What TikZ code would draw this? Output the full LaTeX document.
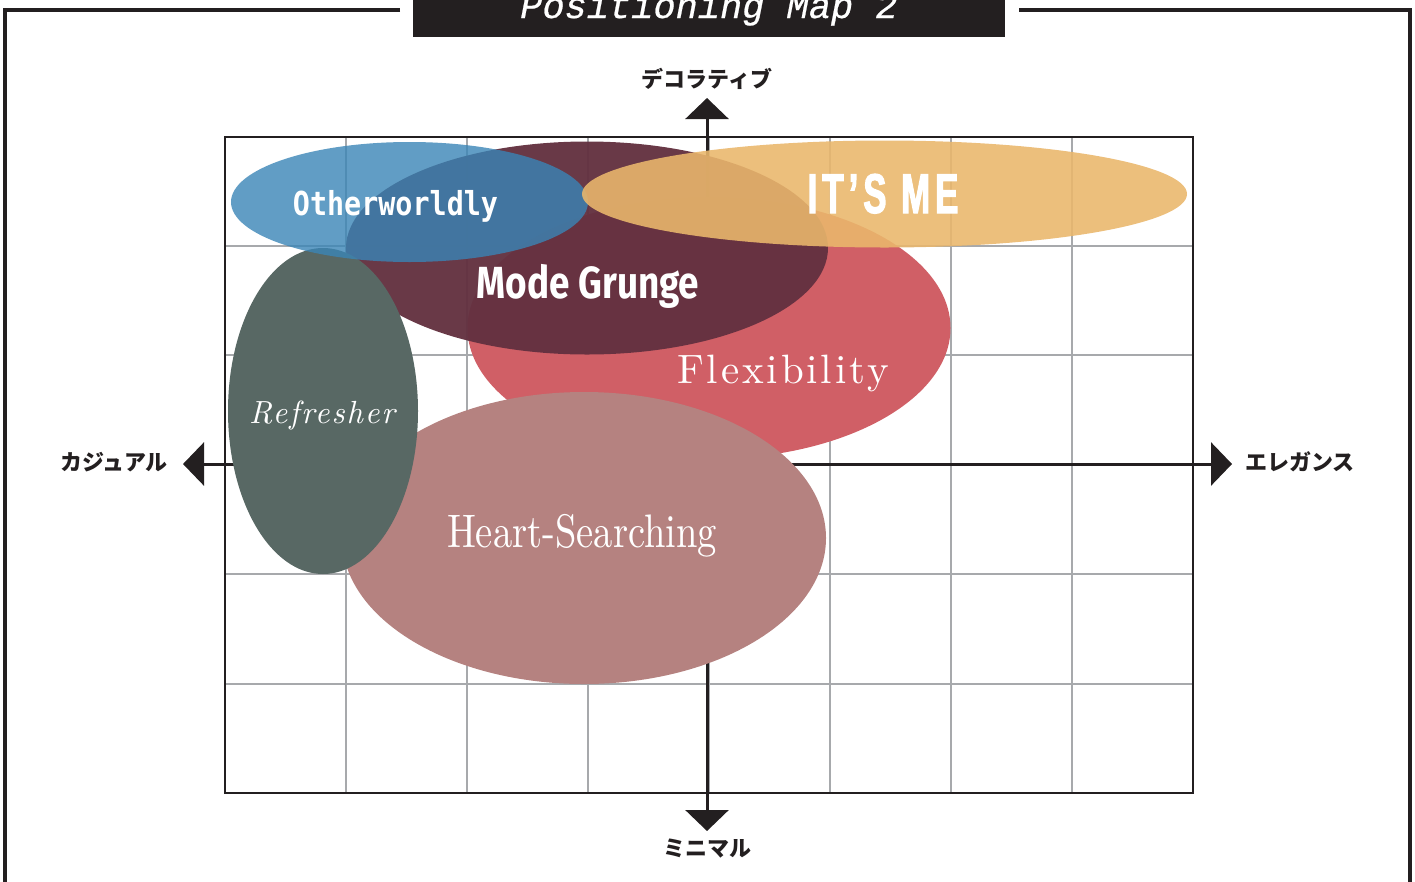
\documentclass[tikz,border=0pt]{standalone}
\usepackage{xcolor}
\usepackage{fontspec}
\usepackage{tikz}
\usetikzlibrary{arrows.meta}
\newfontfamily\jpfont{Noto Sans CJK JP}
\newfontfamily\titlefont{Liberation Mono}[FakeBold=0.6]
\newfontfamily\otherfont{DejaVu Sans Mono}[FakeStretch=0.86]
\newfontfamily\grungefont{Fira Sans}[FakeStretch=0.82]
\newfontfamily\itsmefont{Liberation Sans}[FakeStretch=0.62,LetterSpace=9,FakeBold=2]
\newfontfamily\flexfont{lmroman10-regular.otf}[LetterSpace=7]
\newfontfamily\refreshfont{lmroman10-italic.otf}[LetterSpace=6]
\newfontfamily\heartfont{lmroman10-regular.otf}[FakeStretch=0.82]
\definecolor{framecol}{HTML}{231F20}
\definecolor{gridgray}{HTML}{A7A9AC}
\definecolor{otherblue}{RGB}{58,133,182}
\definecolor{grungered}{HTML}{633140}
\definecolor{itsmeorange}{HTML}{EAB76C}
\definecolor{flexred}{HTML}{D05F66}
\definecolor{heartrose}{HTML}{B58280}
\definecolor{refreshslate}{HTML}{586864}

\begin{document}
\begin{tikzpicture}[x=1pt,y=-1pt]
	\useasboundingbox (0,0) rectangle (1415,881);
	\tikzstyle{frame}=[draw=framecol,line width=4pt]
	\tikzstyle{gridline}=[draw=gridgray,line width=1.5pt]
	\tikzstyle{axis}=[draw=framecol,line width=3pt,{Triangle[length=21pt,width=43pt]}-{Triangle[length=21pt,width=43pt]}]
	\draw[frame] (400,10) -- (5,10) -- (5,895);
	\draw[frame] (1019,10) -- (1410,10) -- (1410,895);
	\fill[framecol] (413,-5) rectangle (1005,37);
	\draw[gridline] (346,137)--(346,793) (467,137)--(467,793) (588,137)--(588,793) (709,137)--(709,793)
			(830,137)--(830,793) (951,137)--(951,793) (1072,137)--(1072,793);
	\draw[gridline] (225,246)--(1193,246) (225,355)--(1193,355) (225,465)--(1193,465)
			(225,574)--(1193,574) (225,684)--(1193,684);
	\draw[draw=framecol,line width=2.5pt] (225,137) rectangle (1193,793);
	\coordinate (ytop) at (707,98);
	\coordinate (ybot) at (707,831);
	\coordinate (xleft) at (183,464);
	\coordinate (xright) at (1232,464);
	\draw[axis] (ybot)--(ytop);
	\draw[axis] (xleft)--(xright);
	\fill[flexred] (709,328) ellipse (241.5 and 131);
	\fill[grungered,opacity=0.96] (587,248) ellipse (241 and 106.5);
	\fill[heartrose] (584,538) ellipse (242 and 146);
	\fill[refreshslate] (323,411) ellipse (95 and 163);
	\fill[otherblue,opacity=0.8] (409.5,202) ellipse (178.5 and 60);
	\fill[itsmeorange,opacity=0.89] (884.5,194) ellipse (302.5 and 53.5);
	\tikzstyle{every node}=[text=white,anchor=base,inner sep=0pt];
	\node (title) at (709,18) {\titlefont\itshape\fontsize{37}{37}\selectfont Positioning Map 2};
	\node (other) at (395.5,215) {\otherfont\bfseries\fontsize{33}{33}\selectfont Otherworldly};
	\node (grunge) at (588,298) {\grungefont\bfseries\fontsize{45}{45}\selectfont Mode Grunge};
	\node (itsme) at (883,213) {\itsmefont\bfseries\fontsize{56}{56}\selectfont IT’S ME};
	\node (flex) at (783,383) {\flexfont\fontsize{41}{41}\selectfont Flexibility};
	\node (refresh) at (322,423) {\refreshfont\fontsize{32}{32}\selectfont Refresher};
	\node (heart) at (582,547) {\heartfont\fontsize{47}{47}\selectfont Heart-Searching};
	\tikzstyle{every node}=[text=framecol,inner sep=0pt];
	\node (deco) at (707,79) {\jpfont\bfseries\fontsize{22}{22}\selectfont デコラティブ};
	\node (casual) at (114,462) {\jpfont\bfseries\fontsize{22}{22}\selectfont カジュアル};
	\node (elegance) at (1300,462) {\jpfont\bfseries\fontsize{22}{22}\selectfont エレガンス};
	\node (minimal) at (707,849) {\jpfont\bfseries\fontsize{22}{22}\selectfont ミニマル};
\end{tikzpicture}
\end{document}
